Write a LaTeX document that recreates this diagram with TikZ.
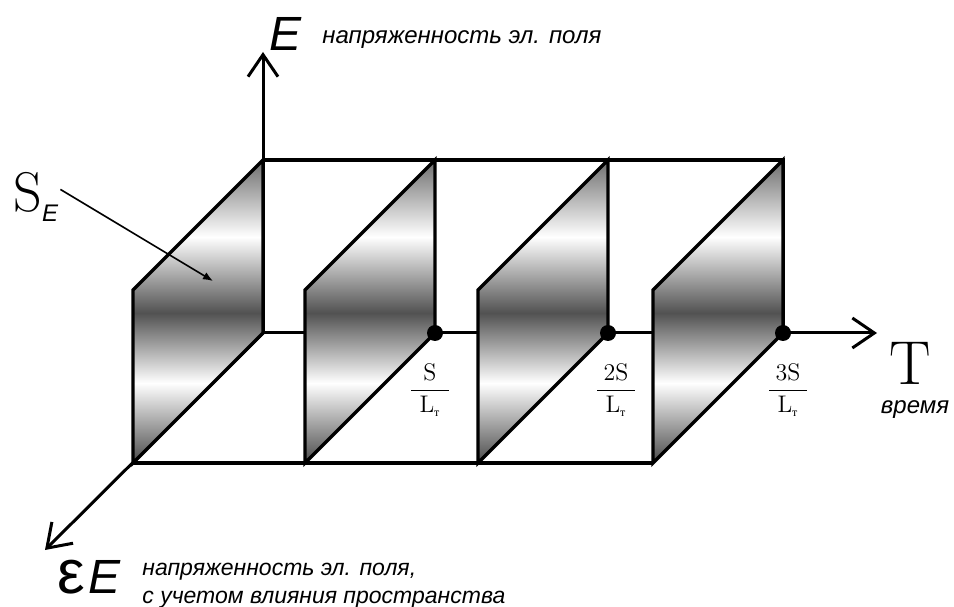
\documentclass[tikz,border=0pt]{standalone}
\usepackage{fontspec}
\usepackage{tikz}
\usetikzlibrary{arrows.meta}
\newfontfamily\sansfont{Liberation Sans}
\newfontfamily\cyrserif{Liberation Serif}
\pgfdeclareverticalshading{metal}{100bp}{color(0bp)=(black!68); color(25.5bp)=(black!68); color(38.2bp)=(white); color(49.75bp)=(black!68); color(62.3bp)=(white); color(74.5bp)=(black!55); color(100bp)=(black!55)}
\newcommand{\stepfrac}[1]{$\displaystyle\frac{\makebox[19pt]{$\mathrm{#1}$}}{\mathrm{L}_{\mbox{\cyrserif\fontsize{6}{6}\selectfont т}}}$}

\begin{document}
\begin{tikzpicture}[x=5pt,y=5pt,
    frame/.style={line width=1.7pt},
    axis/.style={line width=1.5pt,-{Straight Barb[length=11pt,width=15pt]}},
    plate/.style={line width=1.7pt,shading=metal,draw=black},
    knot/.style={circle,fill=black,inner sep=0pt,minimum size=8pt},
    caption/.style={font=\sansfont\itshape\fontsize{12}{13.5}\selectfont,align=left,inner sep=1pt}]
    \useasboundingbox (0,0) rectangle (95.4,60.6);

    % Origin and ends of the axes
    \coordinate (O) at (26.3,27.3);
    \coordinate (Etip) at (26.3,55.4);
    \coordinate (Ttip) at (87.7,27.3);
    \coordinate (eEtip) at (4.5,5.6);

    % Draw Axes
    \draw[axis] (O) -- (Etip);
    \draw[axis] (O) -- (Ttip);
    \draw[axis] (O) -- (eEtip);

    % Edges of the box
    \draw[frame] (26.3,44.6) -- (78.3,44.6) -- (78.3,27.3);
    \draw[frame] (13.3,14.3) -- (65.3,14.3);

    % Shaded plates
    \foreach \x [count=\i] in {13.3,30.5,47.8,65.3} {
        \shade[plate] (\x,14.3) -- (\x,31.6) -- (\x+13,44.6) -- (\x+13,27.3) coordinate (Q\i) -- cycle;
    }
    \foreach \i in {2,3,4} \node[knot] (D\i) at (Q\i) {};

    % Step labels
    \node (F1) at (43.0,21.6) {\fontsize{12}{14}\selectfont\stepfrac{S}};
    \node (F2) at (61.6,21.6) {\fontsize{12}{14}\selectfont\stepfrac{2S}};
    \node (F3) at (78.8,21.6) {\fontsize{12}{14}\selectfont\stepfrac{3S}};

    % Axis labels
    \node[font=\sansfont\itshape\fontsize{24}{24}\selectfont] (E) at (28.6,57.2) {E};
    \node[caption,anchor=west] (Etext) at (32.0,56.6) {напряженность эл. поля};
    \node[font=\fontsize{31}{31}\selectfont] (T) at (91.0,24.3) {T};
    \node[caption] (Ttext) at (91.5,19.6) {время};
    \node (eE) at (8.9,2.9) {{\sansfont\fontsize{31}{31}\selectfont ε}\hspace{1.5pt}{\sansfont\itshape\fontsize{24}{24}\selectfont E}};
    \node[caption,anchor=west,font=\sansfont\itshape\fontsize{11.5}{14}\selectfont] (eEtext) at (14.0,2.0) {напряженность эл. поля,\\с учетом влияния пространства};

    % Plate label
    \node[inner sep=1pt,anchor=base west,font=\fontsize{28}{28}\selectfont] (SE) at (1.1,39.4) {S\raisebox{-5pt}{\sansfont\itshape\fontsize{12}{12}\selectfont E}};
    \coordinate (SEtip) at (21.3,32.5);
    \draw[line width=0.8pt,-{Latex[length=5pt,width=4pt]}] ([yshift=4pt]SE.east) -- (SEtip);
\end{tikzpicture}
\end{document}
